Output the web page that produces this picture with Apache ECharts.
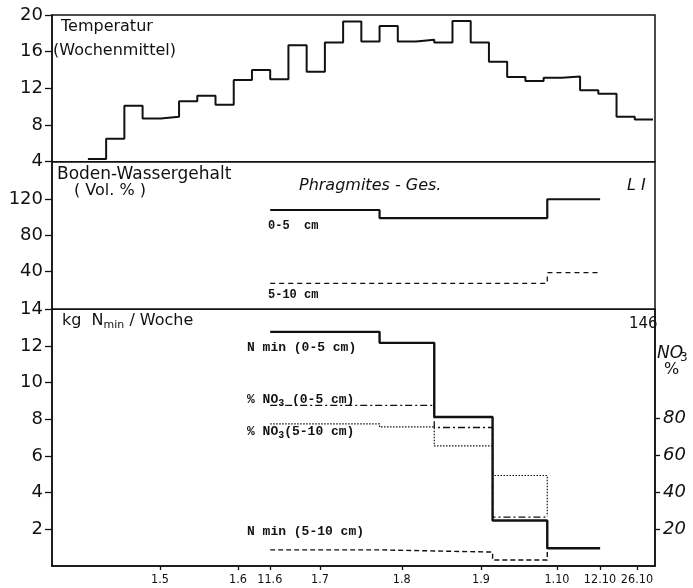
<!DOCTYPE html>
<html><head><meta charset="utf-8">
<script src="https://cdn.jsdelivr.net/npm/echarts@6/dist/echarts.min.js"></script>
<style>html,body{margin:0;padding:0;background:#fff}#c{width:693px;height:588px}</style>
</head><body><div id="c"></div>
<script>
// x unit: weeks counted from the first weekly temperature value
const tempEdges = [0,1,2,3,4,5,6,7,8,9,10,11,12,13,14,15,16,17,18,19,20,21,22,23,24,25,26,27,28,29,30,31];
const tempValues = [4.3,6.5,10.1,8.7,8.9,10.6,11.2,10.2,12.9,14.0,13.0,16.7,13.8,17.0,19.3,17.1,18.8,17.1,17.3,17.0,19.35,17.0,14.9,13.25,12.8,13.15,13.3,11.8,11.4,8.9,8.6];

const water05Edges = [10,16,25.2,28.1];
const water05Values = [108,99,120];
const water510Edges = [10,25.2,28.1];
const water510Values = [26,38];

const nminEdges = [10,16,19,22.2,25.2,28.1];
const nmin05Values = [12.77,12.17,8.13,2.48,0.97];
const nmin510Values = [0.88,0.82,0.76,0.33,0.97];

const no305Edges = [10,19,22.2,25.2];
const no305Values = [87,75,26.5];
const no3510Edges = [10,16,19,22.2,25.2];
const no3510Values = [77,75.3,65,49];
const no3510Close = 27;

const xTickPos = [3.95,8.23,9.98,12.73,17.22,21.56,25.73,28.09,30.12];
const xTickLabels = ['1.5','1.6','11.6','1.7','1.8','1.9','1.10','12.10','26.10'];

const tempTicks = [4,8,12,16,20];
const waterTicks = [40,80,120];
const nminTicks = [2,4,6,8,10,12,14];
const no3Ticks = [20,40,60,80];

function steps(edges, vals){
  const pts=[];
  for(let i=0;i<vals.length;i++){pts.push([edges[i],vals[i]]);pts.push([edges[i+1],vals[i]]);}
  return pts;
}
const no3510Pts = steps(no3510Edges,no3510Values);
no3510Pts.push([no3510Edges[no3510Edges.length-1], no3510Close]);

const XMIN=-1.97, XMAX=31.11;
const F="'DejaVu Sans', 'Liberation Sans', sans-serif";
const MONO="'Liberation Mono', 'DejaVu Sans Mono', monospace";
const K='#111';

function gridDef(top,height){return {left:52,right:38,top:top,height:height,show:true,borderColor:K,borderWidth:1.5,backgroundColor:'transparent'};}
function yAx(grid,min,max,ticks,extra){
  return Object.assign({type:'value',gridIndex:grid,min:min,max:max,
    axisLine:{show:true,onZero:false,lineStyle:{color:K,width:1.5}},
    axisTick:{show:true,length:7,customValues:ticks,lineStyle:{color:K,width:1.3}},
    axisLabel:{customValues:ticks,color:K,fontSize:18,fontFamily:F,margin:9},
    splitLine:{show:false}},extra||{});
}
function xAx(grid,showIt){
  return {type:'value',gridIndex:grid,min:XMIN,max:XMAX,show:showIt,
    axisLine:{show:true,onZero:false,lineStyle:{color:K,width:1.5}},
    axisTick:{show:true,length:4,customValues:xTickPos,lineStyle:{color:K,width:1.3}},
    axisLabel:{customValues:xTickPos,color:K,fontSize:12.5,fontFamily:"'DejaVu Sans Condensed','Liberation Sans Narrow',"+F,margin:7,
      formatter:function(v){const i=xTickPos.findIndex(p=>Math.abs(p-v)<1e-6);return i>=0?xTickLabels[i]:'';}},
    splitLine:{show:false}};
}
function line(name,xi,yi,data,w,type){
  return {name:name,type:'line',xAxisIndex:xi,yAxisIndex:yi,data:data,showSymbol:false,symbol:'none',animation:false,
    lineStyle:{color:K,width:w,type:type||'solid'},z:3};
}
function txt(x,y,text,style){
  return {type:'text',left:x,top:y,style:Object.assign({text:text,fill:K,font:'16px '+F},style||{}),z:10};
}

const option={
  backgroundColor:'#fff',
  animation:false,
  grid:[gridDef(15,146.7),gridDef(161.7,147.6),gridDef(309.3,256.7)],
  xAxis:[xAx(0,false),xAx(1,false),xAx(2,true)],
  yAxis:[
    yAx(0,4,20,tempTicks),
    yAx(1,-3,162,waterTicks),
    yAx(2,0,14,nminTicks),
    yAx(2,0,139,no3Ticks,{position:'right',axisTick:{show:true,length:5,customValues:no3Ticks,lineStyle:{color:K,width:1.3}},
      axisLabel:{customValues:no3Ticks,color:K,fontSize:18,fontStyle:'italic',fontFamily:F,margin:8}})
  ],
  series:[
    line('Temperatur',0,0,steps(tempEdges,tempValues),2),
    line('Wasser 0-5',1,1,steps(water05Edges,water05Values),2.2),
    line('Wasser 5-10',1,1,steps(water510Edges,water510Values),1.3,[5,4]),
    line('Nmin 5-10',2,2,steps(nminEdges,nmin510Values),1.4,[5,3]),
    line('NO3 0-5',2,3,steps(no305Edges,no305Values),1.3,[7,3,2,3]),
    line('NO3 5-10',2,3,no3510Pts,1.2,[1.5,1.5]),
    line('Nmin 0-5',2,2,steps(nminEdges,nmin05Values),2.4)
  ],
  graphic:[
    txt(61,19,'Temperatur'),
    txt(53,43,'(Wochenmittel)'),
    txt(57,166,'Boden-Wassergehalt',{font:'17px '+F}),
    txt(74,183,'( Vol. % )',{font:'16px '+F}),
    txt(299,178,'Phragmites - Ges.',{font:'italic 16px '+F}),
    txt(627,178,'L I',{font:'italic 16px '+F}),
    txt(268,220,'0-5  cm',{font:'bold 12px '+MONO}),
    txt(268,289,'5-10 cm',{font:'bold 12px '+MONO}),
    {type:'text',left:62,top:313,z:10,style:{text:'{a|kg  N}{s|min}{a| / Woche}',fill:K,font:'16px '+F,
      rich:{a:{fontSize:16,fontFamily:F,fill:K},s:{fontSize:11,fontFamily:F,fill:K,verticalAlign:'bottom',padding:[8,0,0,0]}}}},
    txt(629,317,'146',{font:'15px '+F}),
    txt(247,341,'N min (0-5 cm)',{font:'bold 13px '+MONO}),
    {type:'text',left:247,top:393,z:10,style:{text:'{a|% NO}{s|3}{a| (0-5 cm)}',fill:K,
      rich:{a:{font:'bold 13px '+MONO,fill:K},s:{font:'bold 10px '+MONO,fill:K,padding:[8,0,0,0]}}}},
    {type:'text',left:247,top:425,z:10,style:{text:'{a|% NO}{s|3}{a|(5-10 cm)}',fill:K,
      rich:{a:{font:'bold 13px '+MONO,fill:K},s:{font:'bold 10px '+MONO,fill:K,padding:[8,0,0,0]}}}},
    txt(247,525,'N min (5-10 cm)',{font:'bold 13px '+MONO}),
    txt(657,345,'NO',{font:'italic 17px '+F}),
    txt(680,352,'3',{font:'12px '+F}),
    txt(664,362,'%',{font:'16px '+F})
  ]
};
const chart=echarts.init(document.getElementById('c'),null,{renderer:'canvas'});
chart.setOption(option);
</script></body></html>
